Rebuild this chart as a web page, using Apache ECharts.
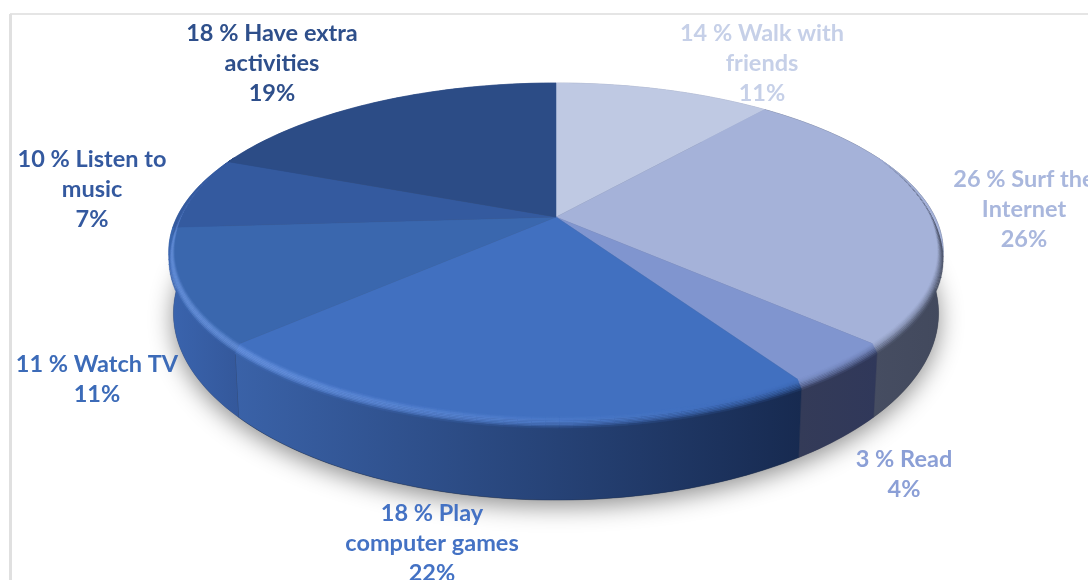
<!DOCTYPE html>
<html><head><meta charset="utf-8">
<style>html,body{margin:0;padding:0;background:#fff}#c{width:1088px;height:580px;filter:blur(0.6px)}</style>
<script src="https://cdn.jsdelivr.net/npm/echarts@6/dist/echarts.min.js"></script>
</head><body><div id="c"></div>
<script>
const categories = ['Walk with\nfriends','Surf the\nInternet','Read','Play\ncomputer games','Watch TV','Listen to\nmusic','Have extra\nactivities'];
const statedShares = [14,26,3,18,11,10,18];
const values = [11,26,4,22,11,7,19];

const topColors = ['#bfc9e3','#a5b2d9','#8095cf','#4170c0','#3a67ae','#345a9f','#2c4c86'];
const textColors = ['#c6d0e8','#a9b7dd','#8b9fd6','#4472c4','#3c6bb8','#34599f','#2e4f8b'];
const sideStops = [['#8f98b0','#8f98b0'],['#4c5368','#42495d'],['#343b58','#30385a'],['#3a62a8','#172a50'],['#3a64ae','#34589b'],['#34589b','#34589b'],['#2a4780','#2a4780']];
const labelX = [762,1024,904,432,97,92,272];
const labelY = [18,164,444,498,349,144,18];

const cx=556, cy=217, A=379, B=161.5, K=0.205, DROP=58, SHRINK=0.988;
const BEVEL_IN=0.014, BEVEL_DROP=8, RINGS=8;
const total = values.reduce((a,b)=>a+b,0);
const starts = []; values.reduce((s,v,i)=>{starts[i]=s; return s+v;},0);
const rad = v => v/total*Math.PI*2;

function proj(t,r,low,extra){
  const X=r*Math.sin(t), Y=-r*Math.cos(t), w=1-K*Y;
  let x=A*X/w, y=B*Y/w;
  if(low){ x*=SHRINK; y+=DROP/Math.pow(w,1.4); }
  if(extra){ y+=extra; }
  return [cx+x,cy+y];
}
function arc(t0,t1,r,low){
  const n=Math.max(2,Math.ceil((t1-t0)/0.02)), out=[];
  for(let i=0;i<=n;i++) out.push(proj(t0+(t1-t0)*i/n,r,low));
  return out;
}
const rgb = hex => [1,3,5].map(i=>parseInt(hex.substr(i,2),16));
const lerp = (a,b,f) => a.map((c,i)=>c+(b[i]-c)*f);
const css = c => 'rgb('+c.map(Math.round).join(',')+')';
function range(i){ const t0=rad(starts[i]); return [t0,t0+rad(values[i])]; }

function renderShadow(){
  return {type:'polygon',shape:{points:arc(0,Math.PI*2,1,true)},
    style:{fill:'#555',shadowBlur:24,shadowColor:'rgba(0,0,0,0.45)',shadowOffsetY:6}};
}
function renderSide(p,api){
  const i=api.value(0), [t0,t1]=range(i);
  const pts=arc(t0,t1,1,false).concat(arc(t0,t1,1,true).reverse());
  return {type:'polygon',shape:{points:pts},style:{
    fill:new echarts.graphic.LinearGradient(0,0,1,0,[{offset:0,color:sideStops[i][0]},{offset:1,color:sideStops[i][1]}]),
    stroke:sideStops[i][1],lineWidth:0.4}};
}
function renderTop(p,api){
  const i=api.value(0), [t0,t1]=range(i);
  return {type:'polygon',shape:{points:[[cx,cy]].concat(arc(t0,t1,1,false))},
    style:{fill:topColors[i],stroke:topColors[i],lineWidth:0.5}};
}
function bevelPoint(t,u,str){
  const inner=proj(t,1-BEVEL_IN*str), outer=proj(t,1,false,BEVEL_DROP*str);
  return [inner[0]+(outer[0]-inner[0])*u, inner[1]+(outer[1]-inner[1])*u];
}
function renderRim(p,api){
  const i=api.value(0), [t0,t1]=range(i), kids=[];
  const step=0.03, n=Math.ceil((t1-t0)/step);
  const top=rgb(topColors[i]), sa=rgb(sideStops[i][0]), sb=rgb(sideStops[i][1]);
  const xa=proj(t1,1)[0], xb=proj(t0,1)[0];
  for(let s=0;s<n;s++){
    const a=t0+(t1-t0)*s/n, b=t0+(t1-t0)*(s+1)/n, m=(a+b)/2;
    const Y=-Math.cos(m), str=Math.max(0,Math.min(1,(Y+0.4)/0.5));
    if(str<=0) continue;
    const l=Math.cos(m-250*Math.PI/180);
    const px=proj(m,1)[0], fx=Math.abs(xb-xa)<1?0:Math.max(0,Math.min(1,(px-Math.min(xa,xb))/Math.abs(xb-xa)));
    const side=lerp(sa,sb,fx);
    for(let q=0;q<RINGS;q++){
      const u0=q/RINGS,u1=(q+1)/RINGS,u=(u0+u1)/2;
      let col=lerp(top,side,u*u*u*str);
      if(l>0) col=lerp(col,[135,175,250],0.55*l*str*Math.sin(Math.PI*Math.min(1,u*1.05)));
      else col=lerp(col,side,-l*str*Math.sin(Math.PI*u/2)*0.8);
      const c=css(col);
      kids.push({type:'polygon',shape:{points:[bevelPoint(a,u0,str),bevelPoint(b,u0,str),bevelPoint(b,u1,str),bevelPoint(a,u1,str)]},
        style:{fill:c,stroke:c,lineWidth:0.3}});
    }
  }
  return {type:'group',children:kids};
}
const rows=values.map((v,i)=>[i,v]);
const chart=echarts.init(document.getElementById('c'),null,{renderer:'canvas'});
chart.setOption({
  animation:false,
  backgroundColor:'#ffffff',
  graphic:[
    {type:'line',shape:{x1:10,y1:14,x2:1088,y2:14},style:{stroke:'#dcdcdc',lineWidth:1.5},silent:true},
    {type:'line',shape:{x1:10.5,y1:14,x2:10.5,y2:580},style:{stroke:'#e0e0e0',lineWidth:3},silent:true}
  ].concat(categories.map((c,i)=>({
    type:'text',x:labelX[i],y:labelY[i],z:10,
    style:{text:statedShares[i]+' % '+c+'\n'+values[i]+'%',align:'center',verticalAlign:'top',
      font:'700 23.5px Lato',lineHeight:30,fill:textColors[i]}
  }))),
  series:[
    {type:'custom',coordinateSystem:'none',z:1,data:[[0,0]],renderItem:renderShadow,silent:true},
    {type:'custom',coordinateSystem:'none',z:2,data:rows,renderItem:renderSide,silent:true},
    {type:'custom',coordinateSystem:'none',z:3,data:rows,renderItem:renderTop,silent:true},
    {type:'custom',coordinateSystem:'none',z:4,data:rows,renderItem:renderRim,silent:true}
  ]
});
</script></body></html>
